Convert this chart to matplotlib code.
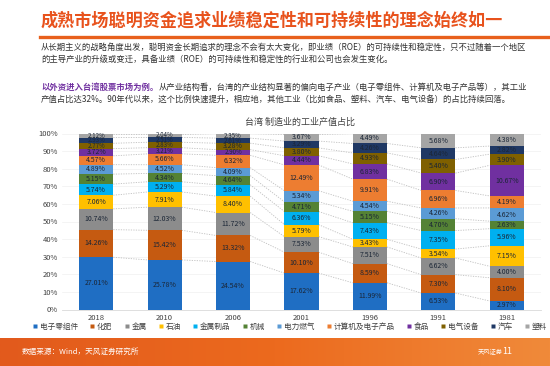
import numpy as np
import matplotlib
matplotlib.use("Agg")
import matplotlib.pyplot as plt
from matplotlib.lines import Line2D
from matplotlib.colors import LinearSegmentedColormap

plt.rcParams['font.family'] = ['Noto Sans CJK SC', 'DejaVu Sans']

years = ['2018', '2010', '2006', '2001', '1996', '1991', '1981']
industries = ['电子零组件', '化肥', '金属', '石油', '金属制品', '机械', '电力燃气',
              '计算机及电子产品', '食品', '电气设备', '汽车', '塑料']
colors = ['#1F6EC3', '#C55A11', '#8C8C8C', '#FFC000', '#00B0F0', '#548235', '#5B9BD5',
          '#ED7D31', '#7030A0', '#7F6000', '#1F3864', '#A5A5A5']

# rows: industries (bottom -> top), columns: years
v_electronic = [27.01, 25.78, 24.54, 17.62, 11.99, 6.53, 2.97]
v_fertilizer = [14.26, 15.42, 13.32, 10.10, 8.59, 7.30, 8.10]
v_metal = [10.74, 12.03, 11.72, 7.53, 7.51, 6.62, 4.00]
v_oil = [7.06, 7.91, 8.40, 5.79, 3.43, 3.54, 7.15]
v_metalprod = [5.74, 5.29, 5.84, 6.36, 7.43, 7.35, 5.96]
v_machinery = [5.15, 4.34, 4.64, 4.71, 5.15, 4.70, 2.63]
v_power = [4.89, 4.52, 4.09, 5.34, 4.54, 4.26, 4.62]
v_computer = [4.57, 5.66, 6.32, 12.49, 9.91, 6.96, 4.19]
v_food = [3.72, 3.21, 2.90, 4.44, 6.83, 6.90, 10.67]
v_elecequip = [2.77, 2.83, 3.28, 3.80, 4.93, 5.40, 3.90]
v_auto = [2.93, 2.51, 2.61, 3.29, 4.26, 4.64, 2.82]
v_plastic = [2.12, 2.04, 2.35, 3.67, 4.49, 5.68, 4.38]

data = np.array([v_electronic, v_fertilizer, v_metal, v_oil, v_metalprod, v_machinery,
                 v_power, v_computer, v_food, v_elecequip, v_auto, v_plastic])
share = data / data.sum(axis=0) * 100

W, H = 550, 366
fig = plt.figure(figsize=(W / 100, H / 100), dpi=100)
fig.patch.set_facecolor('white')

def fx(px):
    return px / W

def fy(py):
    return 1 - py / H

# title + rule
fig.text(fx(41), fy(21), '成熟市场聪明资金追求业绩稳定性和可持续性的理念始终如一',
         fontsize=12.3, fontweight='bold', color='#E8521C', va='center', ha='left')
fig.add_artist(Line2D([fx(40), 1.0], [fy(37), fy(37)], color='#E8601C', lw=2.4))

txt_color = '#333333'
fs = 6.0
fig.text(fx(41), fy(47), '从长期主义的战略角度出发，聪明资金长期追求的理念不会有太大变化，即业绩（ROE）的可持续性和稳定性，只不过随着一个地区',
         fontsize=fs, color=txt_color, va='center', ha='left')
fig.text(fx(41), fy(59), '的主导产业的升级或变迁，具备业绩（ROE）的可持续性和稳定性的行业和公司也会发生变化。',
         fontsize=fs, color=txt_color, va='center', ha='left')
t_purple = fig.text(fx(41), fy(87), '以外资进入台湾股票市场为例。', fontsize=fs, color='#7030A0',
                    fontweight='bold', va='center', ha='left')
renderer = fig.canvas.get_renderer()
bb = t_purple.get_window_extent(renderer=renderer)
fig.text(bb.x1 / W, fy(87), '从产业结构看，台湾的产业结构显著的偏向电子产业（电子零组件、计算机及电子产品等），其工业',
         fontsize=fs, color=txt_color, va='center', ha='left')
fig.text(fx(41), fy(99), '产值占比达32%。90年代以来，这个比例快速提升，相应地，其他工业（比如食品、塑料、汽车、电气设备）的占比持续回落。',
         fontsize=fs, color=txt_color, va='center', ha='left')

# chart
ax = fig.add_axes([fx(62), fy(309.5), fx(541) - fx(62), (309.5 - 133.5) / H])
x = np.arange(len(years))
bw = 0.5
bottom = np.zeros(len(years))
for k in range(len(industries)):
    ax.bar(x, share[k], bw, bottom=bottom, color=colors[k], zorder=3, linewidth=0)
    for i in range(len(years)):
        small = share[k][i] < 3.6
        ax.text(x[i], bottom[i] + share[k][i] / 2, f'{data[k][i]:.2f}%', ha='center',
                va='center', fontsize=4.4 if small else 5.0, color='#1B2636', zorder=4)
    bottom = bottom + share[k]
    # series lines
    for i in range(len(years) - 1):
        ax.plot([x[i] + bw / 2, x[i + 1] - bw / 2], [bottom[i], bottom[i + 1]],
                color='#BFBFBF', lw=0.6, ls=(0, (1.5, 1.5)), zorder=2)

ax.set_xlim(-0.5, len(years) - 0.5)
ax.set_ylim(0, 100)
ax.set_yticks(np.arange(0, 101, 10))
ax.set_yticklabels([f'{t}%' for t in range(0, 101, 10)], fontsize=5.5, color='#404040')
ax.set_xticks(x)
ax.set_xticklabels(years, fontsize=5.5, color='#404040')
ax.tick_params(length=0, pad=3)
for s in ['top', 'right', 'left']:
    ax.spines[s].set_visible(False)
ax.spines['bottom'].set_color('#D9D9D9')
ax.spines['bottom'].set_linewidth(0.6)
ax.yaxis.grid(True, color='#F0F0F0', lw=0.5, zorder=0)
ax.set_axisbelow(True)

fig.text(fx(300), fy(122), '台湾 制造业的工业产值占比', fontsize=6.5, color='#404040',
         ha='center', va='center')

handles = [Line2D([0], [0], marker='s', color='none', markerfacecolor=c, markeredgecolor='none',
                  markersize=3) for c in colors]
fig.legend(handles, industries, loc='center', bbox_to_anchor=(fx(290), fy(327)), ncol=12,
           frameon=False, fontsize=5.5, handlelength=0.6, handletextpad=0.3,
           columnspacing=1.6, labelcolor='#404040')

# footer band
fax = fig.add_axes([0, 0, 1, 28 / H])
grad = np.linspace(0, 1, 256).reshape(1, -1)
cmap = LinearSegmentedColormap.from_list('f', ['#E25A1C', '#EC6A1E', '#F08A3A'])
fax.imshow(grad, aspect='auto', cmap=cmap, extent=[0, 1, 0, 1])
fax.set_axis_off()
fig.text(fx(22), fy(352), '数据来源：Wind，天风证券研究所', fontsize=5.5, color='white',
         ha='left', va='center')
fig.text(fx(478), fy(352), '天风证券', fontsize=4.5, color='white', ha='left', va='center')
fig.text(fx(507), fy(352), '11', fontsize=6.5, color='white', ha='center', va='center')

fig.savefig('out.png', dpi=100)
